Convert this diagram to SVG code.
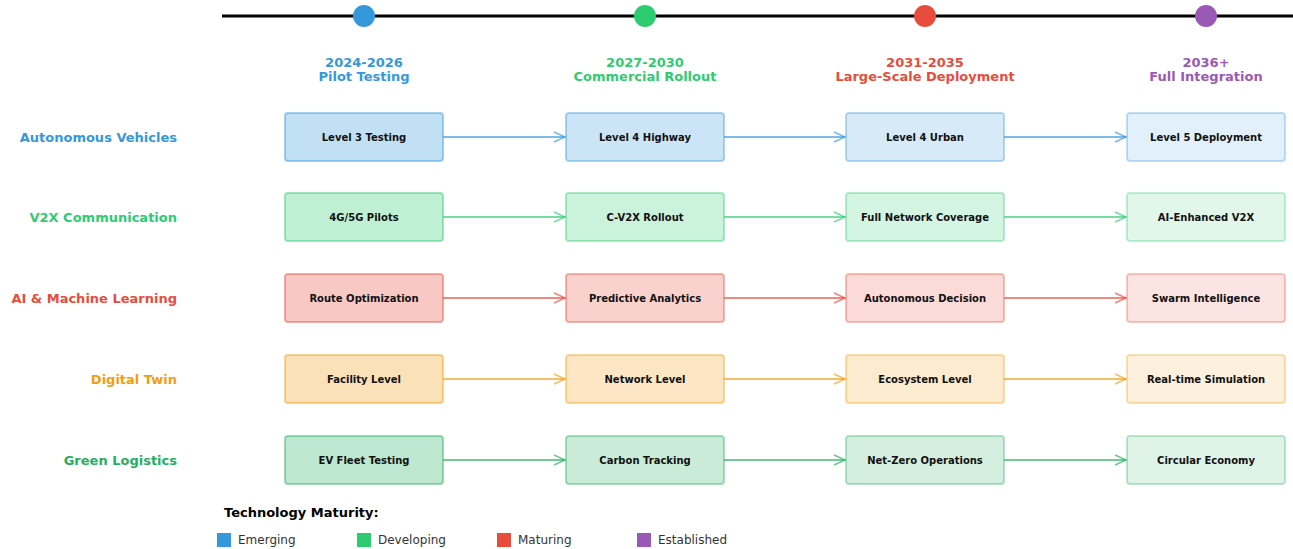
<svg xmlns="http://www.w3.org/2000/svg" width="1293" height="549" viewBox="0 0 1293 549">
<style>
text{font-family:"DejaVu Sans",sans-serif}
.ph{font-size:13px;font-weight:bold;text-anchor:middle}
.rl{font-size:13px;font-weight:bold;text-anchor:end}
.bt{font-size:10px;font-weight:bold;text-anchor:middle;fill:#111}
.box{stroke-width:2}
.c1{fill-opacity:0.3;stroke-opacity:0.45}
.c2{fill-opacity:0.25;stroke-opacity:0.4}
.c3{fill-opacity:0.2;stroke-opacity:0.35}
.c4{fill-opacity:0.15;stroke-opacity:0.3}
.ar{fill:none;stroke-width:1.8;stroke-opacity:0.65}
.lg{font-size:12px;fill:#333}
</style>
<defs>
<marker id="mb" markerWidth="14" markerHeight="12" refX="12" refY="6" orient="auto" markerUnits="userSpaceOnUse"><path d="M1,1 L12,6 L1,11" fill="none" stroke="#3498db" stroke-opacity="0.65" stroke-width="1.8"/></marker>
<marker id="mg" markerWidth="14" markerHeight="12" refX="12" refY="6" orient="auto" markerUnits="userSpaceOnUse"><path d="M1,1 L12,6 L1,11" fill="none" stroke="#2ecc71" stroke-opacity="0.65" stroke-width="1.8"/></marker>
<marker id="mr" markerWidth="14" markerHeight="12" refX="12" refY="6" orient="auto" markerUnits="userSpaceOnUse"><path d="M1,1 L12,6 L1,11" fill="none" stroke="#e74c3c" stroke-opacity="0.65" stroke-width="1.8"/></marker>
<marker id="mo" markerWidth="14" markerHeight="12" refX="12" refY="6" orient="auto" markerUnits="userSpaceOnUse"><path d="M1,1 L12,6 L1,11" fill="none" stroke="#f39c12" stroke-opacity="0.65" stroke-width="1.8"/></marker>
<marker id="ml" markerWidth="14" markerHeight="12" refX="12" refY="6" orient="auto" markerUnits="userSpaceOnUse"><path d="M1,1 L12,6 L1,11" fill="none" stroke="#27ae60" stroke-opacity="0.65" stroke-width="1.8"/></marker>
</defs>
<rect width="1293" height="549" fill="#fff"/>
<g id="timeline">
<line x1="222" y1="16" x2="1293" y2="16" stroke="#000" stroke-width="3"/>
<circle cx="364" cy="16" r="11" fill="#3498db"/>
<circle cx="645" cy="16" r="11" fill="#2ecc71"/>
<circle cx="925" cy="16" r="11" fill="#e74c3c"/>
<circle cx="1206" cy="16" r="11" fill="#9b59b6"/>
<text class="ph" x="364" y="67" fill="#3498db">2024-2026</text>
<text class="ph" x="364" y="81" fill="#3498db">Pilot Testing</text>
<text class="ph" x="645" y="67" fill="#2ecc71">2027-2030</text>
<text class="ph" x="645" y="81" fill="#2ecc71">Commercial Rollout</text>
<text class="ph" x="925" y="67" fill="#e74c3c">2031-2035</text>
<text class="ph" x="925" y="81" fill="#e74c3c">Large-Scale Deployment</text>
<text class="ph" x="1206" y="67" fill="#9b59b6">2036+</text>
<text class="ph" x="1206" y="81" fill="#9b59b6">Full Integration</text>
</g>
<g id="row-labels">
<text class="rl" x="177" y="142" fill="#3498db">Autonomous Vehicles</text>
<text class="rl" x="177" y="222" fill="#2ecc71">V2X Communication</text>
<text class="rl" x="177" y="303" fill="#e74c3c">AI &amp; Machine Learning</text>
<text class="rl" x="177" y="384" fill="#f39c12">Digital Twin</text>
<text class="rl" x="177" y="465" fill="#27ae60">Green Logistics</text>
</g>
<g id="connectors">
<line class="ar" x1="443" y1="137" x2="565" y2="137" stroke="#3498db" marker-end="url(#mb)"/>
<line class="ar" x1="724" y1="137" x2="845" y2="137" stroke="#3498db" marker-end="url(#mb)"/>
<line class="ar" x1="1004" y1="137" x2="1126" y2="137" stroke="#3498db" marker-end="url(#mb)"/>
<line class="ar" x1="443" y1="217" x2="565" y2="217" stroke="#2ecc71" marker-end="url(#mg)"/>
<line class="ar" x1="724" y1="217" x2="845" y2="217" stroke="#2ecc71" marker-end="url(#mg)"/>
<line class="ar" x1="1004" y1="217" x2="1126" y2="217" stroke="#2ecc71" marker-end="url(#mg)"/>
<line class="ar" x1="443" y1="298" x2="565" y2="298" stroke="#e74c3c" marker-end="url(#mr)"/>
<line class="ar" x1="724" y1="298" x2="845" y2="298" stroke="#e74c3c" marker-end="url(#mr)"/>
<line class="ar" x1="1004" y1="298" x2="1126" y2="298" stroke="#e74c3c" marker-end="url(#mr)"/>
<line class="ar" x1="443" y1="379" x2="565" y2="379" stroke="#f39c12" marker-end="url(#mo)"/>
<line class="ar" x1="724" y1="379" x2="845" y2="379" stroke="#f39c12" marker-end="url(#mo)"/>
<line class="ar" x1="1004" y1="379" x2="1126" y2="379" stroke="#f39c12" marker-end="url(#mo)"/>
<line class="ar" x1="443" y1="460" x2="565" y2="460" stroke="#27ae60" marker-end="url(#ml)"/>
<line class="ar" x1="724" y1="460" x2="845" y2="460" stroke="#27ae60" marker-end="url(#ml)"/>
<line class="ar" x1="1004" y1="460" x2="1126" y2="460" stroke="#27ae60" marker-end="url(#ml)"/>
</g>
<g id="av-1"><rect class="box c1" x="285" y="113" width="158" height="48" rx="3" fill="#3498db" stroke="#3498db"/><text class="bt" x="364" y="141">Level 3 Testing</text></g>
<g id="av-2"><rect class="box c2" x="566" y="113" width="158" height="48" rx="3" fill="#3498db" stroke="#3498db"/><text class="bt" x="645" y="141">Level 4 Highway</text></g>
<g id="av-3"><rect class="box c3" x="846" y="113" width="158" height="48" rx="3" fill="#3498db" stroke="#3498db"/><text class="bt" x="925" y="141">Level 4 Urban</text></g>
<g id="av-4"><rect class="box c4" x="1127" y="113" width="158" height="48" rx="3" fill="#3498db" stroke="#3498db"/><text class="bt" x="1206" y="141">Level 5 Deployment</text></g>
<g id="v2x-1"><rect class="box c1" x="285" y="193" width="158" height="48" rx="3" fill="#2ecc71" stroke="#2ecc71"/><text class="bt" x="364" y="221">4G/5G Pilots</text></g>
<g id="v2x-2"><rect class="box c2" x="566" y="193" width="158" height="48" rx="3" fill="#2ecc71" stroke="#2ecc71"/><text class="bt" x="645" y="221">C-V2X Rollout</text></g>
<g id="v2x-3"><rect class="box c3" x="846" y="193" width="158" height="48" rx="3" fill="#2ecc71" stroke="#2ecc71"/><text class="bt" x="925" y="221">Full Network Coverage</text></g>
<g id="v2x-4"><rect class="box c4" x="1127" y="193" width="158" height="48" rx="3" fill="#2ecc71" stroke="#2ecc71"/><text class="bt" x="1206" y="221">AI-Enhanced V2X</text></g>
<g id="ai-1"><rect class="box c1" x="285" y="274" width="158" height="48" rx="3" fill="#e74c3c" stroke="#e74c3c"/><text class="bt" x="364" y="302">Route Optimization</text></g>
<g id="ai-2"><rect class="box c2" x="566" y="274" width="158" height="48" rx="3" fill="#e74c3c" stroke="#e74c3c"/><text class="bt" x="645" y="302">Predictive Analytics</text></g>
<g id="ai-3"><rect class="box c3" x="846" y="274" width="158" height="48" rx="3" fill="#e74c3c" stroke="#e74c3c"/><text class="bt" x="925" y="302">Autonomous Decision</text></g>
<g id="ai-4"><rect class="box c4" x="1127" y="274" width="158" height="48" rx="3" fill="#e74c3c" stroke="#e74c3c"/><text class="bt" x="1206" y="302">Swarm Intelligence</text></g>
<g id="dt-1"><rect class="box c1" x="285" y="355" width="158" height="48" rx="3" fill="#f39c12" stroke="#f39c12"/><text class="bt" x="364" y="383">Facility Level</text></g>
<g id="dt-2"><rect class="box c2" x="566" y="355" width="158" height="48" rx="3" fill="#f39c12" stroke="#f39c12"/><text class="bt" x="645" y="383">Network Level</text></g>
<g id="dt-3"><rect class="box c3" x="846" y="355" width="158" height="48" rx="3" fill="#f39c12" stroke="#f39c12"/><text class="bt" x="925" y="383">Ecosystem Level</text></g>
<g id="dt-4"><rect class="box c4" x="1127" y="355" width="158" height="48" rx="3" fill="#f39c12" stroke="#f39c12"/><text class="bt" x="1206" y="383">Real-time Simulation</text></g>
<g id="gl-1"><rect class="box c1" x="285" y="436" width="158" height="48" rx="3" fill="#27ae60" stroke="#27ae60"/><text class="bt" x="364" y="464">EV Fleet Testing</text></g>
<g id="gl-2"><rect class="box c2" x="566" y="436" width="158" height="48" rx="3" fill="#27ae60" stroke="#27ae60"/><text class="bt" x="645" y="464">Carbon Tracking</text></g>
<g id="gl-3"><rect class="box c3" x="846" y="436" width="158" height="48" rx="3" fill="#27ae60" stroke="#27ae60"/><text class="bt" x="925" y="464">Net-Zero Operations</text></g>
<g id="gl-4"><rect class="box c4" x="1127" y="436" width="158" height="48" rx="3" fill="#27ae60" stroke="#27ae60"/><text class="bt" x="1206" y="464">Circular Economy</text></g>
<g id="legend">
<text x="224" y="517" font-size="13" font-weight="bold" fill="#000">Technology Maturity:</text>
<rect x="217" y="533" width="14" height="14" fill="#3498db"/><text class="lg" x="238" y="544">Emerging</text>
<rect x="357" y="533" width="14" height="14" fill="#2ecc71"/><text class="lg" x="378" y="544">Developing</text>
<rect x="497" y="533" width="14" height="14" fill="#e74c3c"/><text class="lg" x="518" y="544">Maturing</text>
<rect x="637" y="533" width="14" height="14" fill="#9b59b6"/><text class="lg" x="658" y="544">Established</text>
</g>
</svg>
